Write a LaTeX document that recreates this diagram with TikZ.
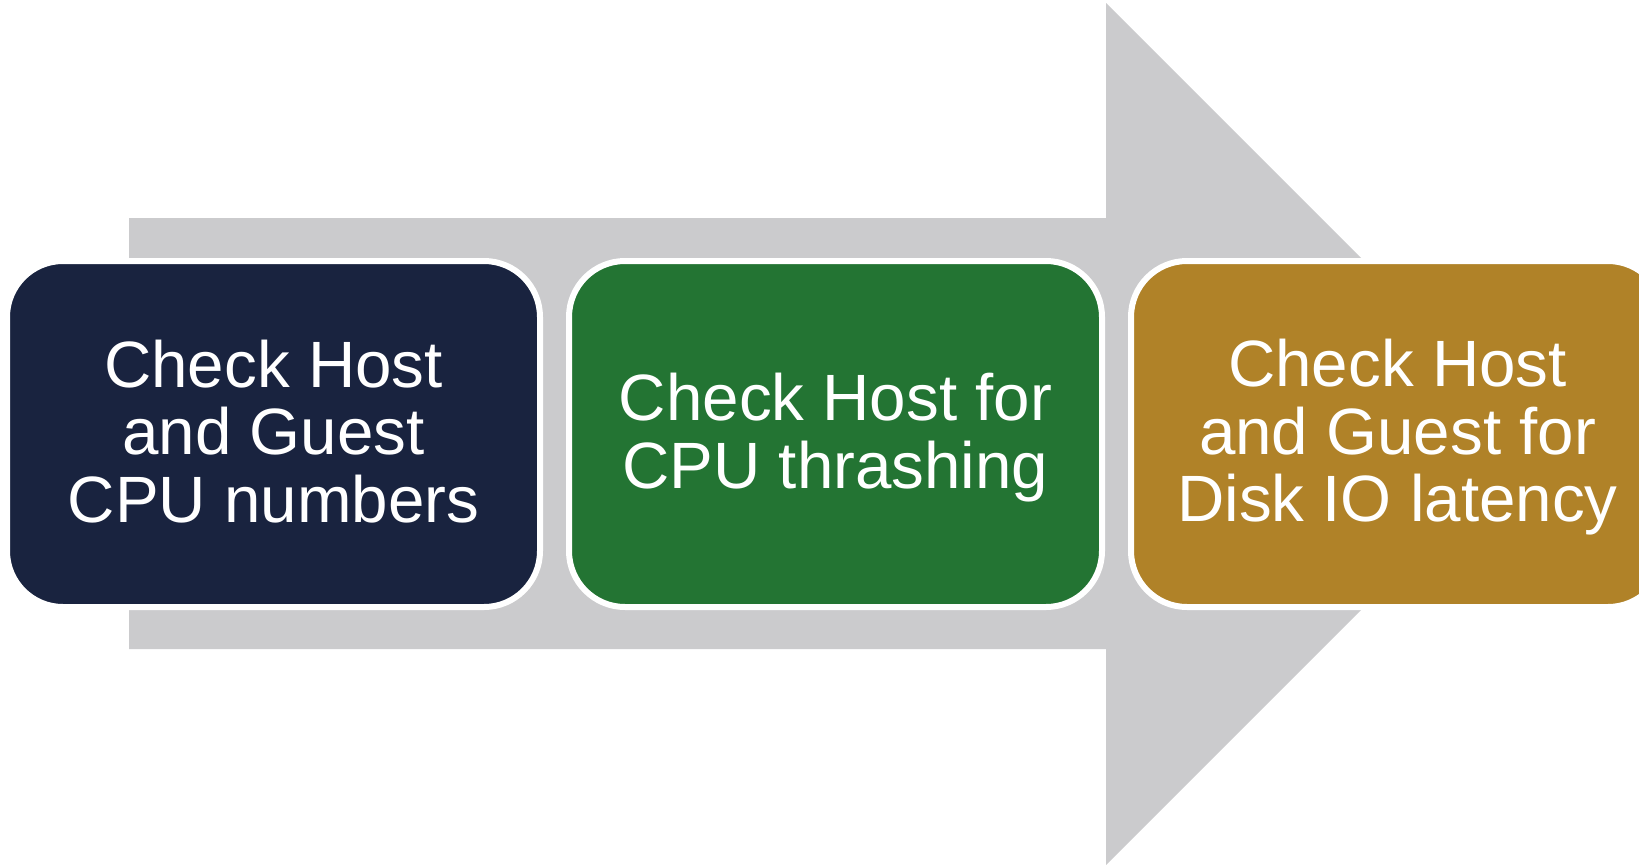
\documentclass[tikz,border=0pt]{standalone}
\usepackage{fontspec}
\setmainfont{Liberation Sans}
\usetikzlibrary{positioning}
\definecolor{navy}{HTML}{19233F}
\definecolor{leaf}{HTML}{237433}
\definecolor{ochre}{HTML}{B08228}
\definecolor{arrowgray}{HTML}{CBCBCD}
\newcommand{\ls}{\rule[-13pt]{0pt}{67.5pt}}
\begin{document}
\begin{tikzpicture}[x=1pt,y=-1pt,node distance=23pt,
  step box/.style={fill=#1,draw=white,line width=6pt,rounded corners=56pt,
    minimum width=533pt,minimum height=346pt,inner sep=0pt,
    text=white,align=center,font=\fontsize{65.5}{67.5}\selectfont}]
\useasboundingbox (0,0) rectangle (1639,865);
\fill[arrowgray] (129,218) -- (1106,218) -- (1106,3) -- (1537,434) -- (1106,865) -- (1106,649) -- (129,649) -- cycle;
\node[step box=navy] (cpu) at (273.5,434) {\ls Check Host\\\ls and Guest\\\ls CPU numbers};
\node[step box=leaf,right=of cpu] (thrash) {\ls Check Host for\\\ls CPU thrashing};
\node[step box=ochre,right=of thrash] (disk) {\ls Check Host\\\ls and Guest for\\\ls Disk IO latency};
\end{tikzpicture}
\end{document}
